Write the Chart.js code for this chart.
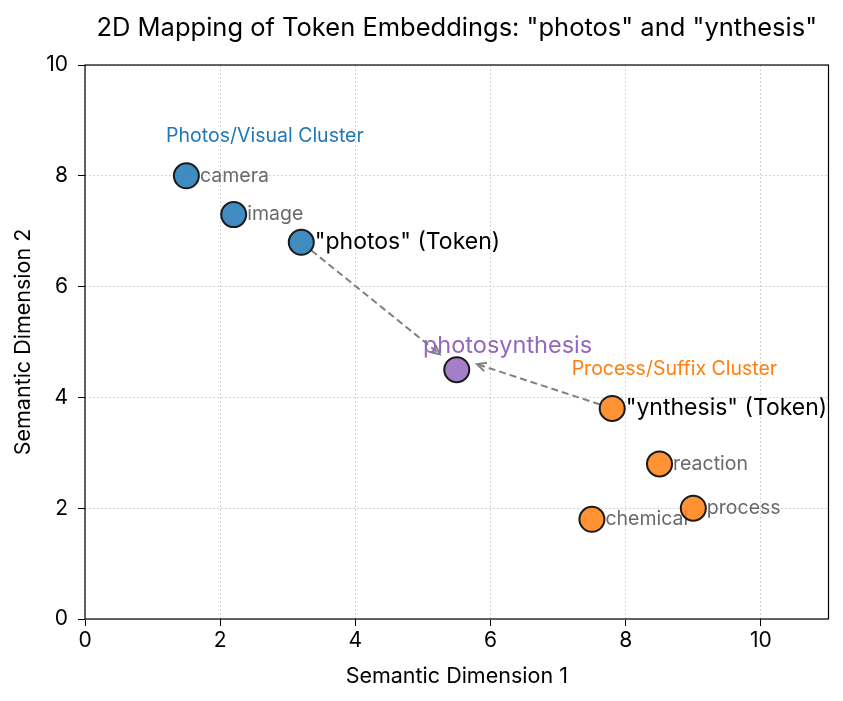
<!DOCTYPE html>
<html>
<head>
<meta charset="utf-8">
<script src="https://cdn.jsdelivr.net/npm/chart.js@4.4.1/dist/chart.umd.min.js"></script>
<style>
  html, body { margin: 0; padding: 0; background: #fff; }
  #wrap { width: 843px; height: 701px; }
</style>
</head>
<body>
<div id="wrap"><canvas id="chart"></canvas></div>
<script>
// photos/visual cluster
const visualWords = ['camera', 'image', '"photos" (Token)'];
const visualX = [1.5, 2.2, 3.2];
const visualY = [8.0, 7.3, 6.8];

// process/suffix cluster
const suffixWords = ['"ynthesis" (Token)', 'reaction', 'process', 'chemical'];
const suffixX = [7.8, 8.5, 9.0, 7.5];
const suffixY = [3.8, 2.8, 2.0, 1.8];

// merged word
const mergedWord = 'photosynthesis';
const mergedX = [5.5];
const mergedY = [4.5];
const mergedLabelPos = [5.0, 4.93];

// cluster captions
const clusterNames = ['Photos/Visual Cluster', 'Process/Suffix Cluster'];
const clusterPos = [[1.2, 8.72], [7.2, 4.51]];

// arrows from the tokens toward the merged word
const arrowFrom = [[3.2, 6.8], [7.8, 3.8]];
const arrowTo = [[5.25, 4.78], [5.8, 4.6]];

const xTicks = [0, 2, 4, 6, 8, 10];
const yTicks = [0, 2, 4, 6, 8, 10];

const FONT = 'Inter, "Noto Sans", sans-serif';
const BLUE = 'rgba(31,119,180,0.85)';
const ORANGE = 'rgba(255,127,14,0.85)';
const PURPLE = 'rgba(148,103,189,0.85)';

const toPts = (xs, ys) => xs.map((x, i) => ({ x: x, y: ys[i] }));

function drawArrow(ctx, x0, y0, x1, y1, shrink) {
  const ang = Math.atan2(y1 - y0, x1 - x0);
  const sx = x0 + Math.cos(ang) * shrink;
  const sy = y0 + Math.sin(ang) * shrink;
  ctx.save();
  ctx.strokeStyle = '#808080';
  ctx.lineWidth = 2;
  ctx.setLineDash([7, 4]);
  ctx.beginPath();
  ctx.moveTo(sx, sy);
  ctx.lineTo(x1, y1);
  ctx.stroke();
  ctx.setLineDash([]);
  const h = 10, spread = 0.45;
  ctx.beginPath();
  ctx.moveTo(x1 - h * Math.cos(ang - spread), y1 - h * Math.sin(ang - spread));
  ctx.lineTo(x1, y1);
  ctx.lineTo(x1 - h * Math.cos(ang + spread), y1 - h * Math.sin(ang + spread));
  ctx.stroke();
  ctx.restore();
}

const labelPlugin = {
  id: 'labels',
  beforeDatasetsDraw(chart) {
    const { ctx, scales: { x, y } } = chart;
    arrowFrom.forEach((p, i) => {
      drawArrow(ctx, x.getPixelForValue(p[0]), y.getPixelForValue(p[1]),
        x.getPixelForValue(arrowTo[i][0]), y.getPixelForValue(arrowTo[i][1]), 13);
    });
    ctx.save();
    ctx.textBaseline = 'middle';
    ctx.textAlign = 'left';
    const put = (txt, dx, dy, color, size) => {
      ctx.fillStyle = color;
      ctx.font = size + 'px ' + FONT;
      ctx.fillText(txt, x.getPixelForValue(dx), y.getPixelForValue(dy));
    };
    visualWords.forEach((w, i) => {
      const tok = w.includes('Token');
      put(w, visualX[i] + 0.2, visualY[i], tok ? '#000' : '#6a6a6a', tok ? 23 : 19.5);
    });
    suffixWords.forEach((w, i) => {
      const tok = w.includes('Token');
      put(w, suffixX[i] + 0.2, suffixY[i], tok ? '#000' : '#6a6a6a', tok ? 23 : 19.5);
    });
    put(mergedWord, mergedLabelPos[0], mergedLabelPos[1], '#9467bd', 23.5);
    put(clusterNames[0], clusterPos[0][0], clusterPos[0][1], '#1f77b4', 19.5);
    put(clusterNames[1], clusterPos[1][0], clusterPos[1][1], '#ff7f0e', 19.5);
    ctx.restore();
  },
  afterDraw(chart) {
    const { ctx, chartArea: a } = chart;
    ctx.save();
    ctx.strokeStyle = '#000';
    ctx.lineWidth = 1.2;
    ctx.strokeRect(a.left, a.top, a.right - a.left, a.bottom - a.top);
    ctx.restore();
  }
};

const pointStyle = (color) => ({
  backgroundColor: color,
  borderColor: '#1a1a1a',
  borderWidth: 2,
  pointRadius: 12.5,
  pointHoverRadius: 12.5
});

new Chart(document.getElementById('chart'), {
  type: 'scatter',
  data: {
    datasets: [
      { label: 'visual', data: toPts(visualX, visualY), ...pointStyle(BLUE) },
      { label: 'merged', data: toPts(mergedX, mergedY), ...pointStyle(PURPLE) },
      { label: 'suffix', data: toPts(suffixX, suffixY), ...pointStyle(ORANGE) }
    ]
  },
  options: {
    responsive: true,
    maintainAspectRatio: false,
    animation: false,
    layout: { padding: { left: 0, right: 14, top: 0, bottom: 0 } },
    plugins: {
      legend: { display: false },
      tooltip: { enabled: false },
      title: {
        display: true,
        fullSize: false,
        text: '2D Mapping of Token Embeddings: "photos" and "ynthesis"',
        color: '#000',
        font: { family: FONT, size: 25.5, weight: 'normal', lineHeight: 1.2 },
        padding: { top: 12.7, bottom: 21.7 }
      }
    },
    scales: {
      x: {
        type: 'linear',
        min: 0, max: 11,
        afterBuildTicks: (s) => { s.ticks = xTicks.map(v => ({ value: v })); },
        afterFit: (s) => { s.height = 82; },
        grid: { color: '#d4d4d4', tickColor: '#000', tickLength: 7, tickBorderDash: [], lineWidth: 1 },
        border: { display: false, dash: [2, 2] },
        ticks: { color: '#000', font: { family: FONT, size: 21 }, padding: 2 },
        title: { display: true, text: 'Semantic Dimension 1', color: '#000', font: { family: FONT, size: 21.5 }, padding: { top: 2, bottom: 12 } }
      },
      y: {
        type: 'linear',
        min: 0, max: 10,
        afterBuildTicks: (s) => { s.ticks = yTicks.map(v => ({ value: v })); },
        afterFit: (s) => { s.width = 85; },
        grid: { color: '#d4d4d4', tickColor: '#000', tickLength: 7, tickBorderDash: [], lineWidth: 1 },
        border: { display: false, dash: [2, 2] },
        ticks: { color: '#000', font: { family: FONT, size: 21 }, padding: 10 },
        title: { display: true, text: 'Semantic Dimension 2', color: '#000', font: { family: FONT, size: 21.5 }, padding: { top: 10.5, bottom: 0 } }
      }
    }
  },
  plugins: [labelPlugin]
});
</script>
</body>
</html>
